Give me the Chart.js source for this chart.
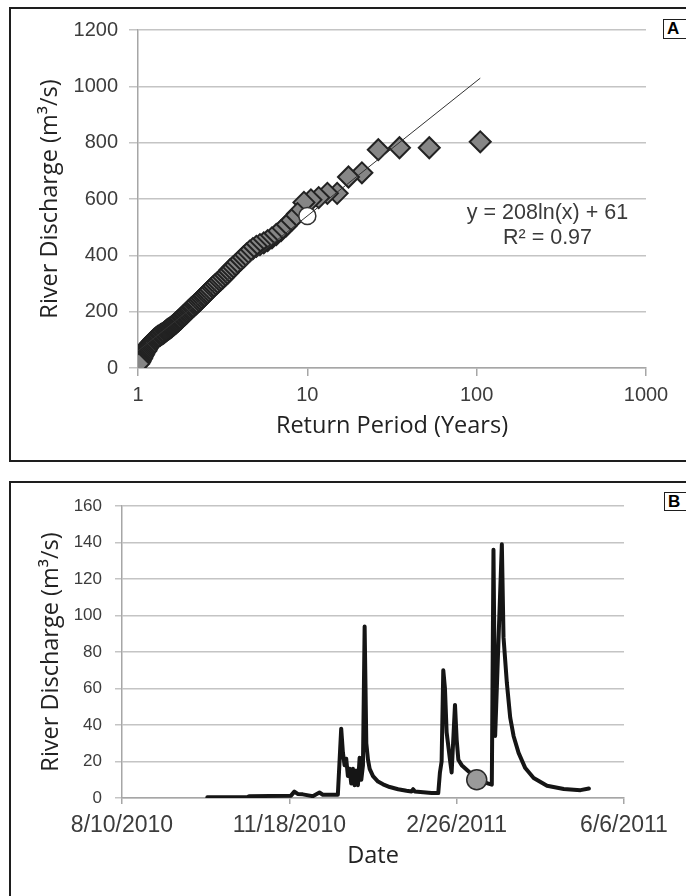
<!DOCTYPE html>
<html>
<head>
<meta charset="utf-8">
<script src="https://cdn.jsdelivr.net/npm/chart.js@4/dist/chart.umd.min.js"></script>
<style>
  html, body { margin: 0; padding: 0; background: #fff; width: 686px; height: 896px; overflow: hidden; }
  .frame { position: absolute; border: 2px solid #1e1e1e; box-sizing: border-box; }
  .tag { position: absolute; border: 1.5px solid #1e1e1e; background: #fff; box-sizing: border-box;
         font: bold 17px "Liberation Sans", Arial, sans-serif; line-height: 17px; padding-left: 3px; }
  canvas { position: absolute; left: 0; }
</style>
</head>
<body>
<div class="frame" style="left:9px; top:7px; width:700px; height:455px;"></div>
<div class="frame" style="left:9px; top:481px; width:700px; height:420px;"></div>
<div class="tag" style="left:663px; top:19px; width:30px; height:20px;">A</div>
<div class="tag" style="left:664px; top:492px; width:30px; height:19px;">B</div>
<canvas id="chartA" width="686" height="470" style="top:0"></canvas>
<canvas id="chartB" width="686" height="424" style="top:472px"></canvas>
<script>
// --- panel A: annual peaks vs return period ---
const returnPeriod = [105, 52.5, 35, 26.25, 21, 17.5, 15, 13.13, 11.67, 10.5,
  9.55, 8.75, 8.08, 7.5, 7.0, 6.56, 6.18, 5.83, 5.53, 5.25,
  5.0, 4.77, 4.57, 4.38, 4.2, 4.04, 3.89, 3.75, 3.62, 3.5,
  3.39, 3.28, 3.18, 3.09, 3.0, 2.92, 2.84, 2.76, 2.69, 2.63,
  2.56, 2.5, 2.44, 2.39, 2.33, 2.28, 2.23, 2.19, 2.14, 2.1,
  2.06, 2.02, 1.98, 1.94, 1.91, 1.88, 1.84, 1.81, 1.78, 1.75,
  1.72, 1.69, 1.67, 1.64, 1.62, 1.59, 1.57, 1.54, 1.52, 1.5,
  1.48, 1.46, 1.44, 1.42, 1.4, 1.38, 1.36, 1.35, 1.33, 1.31,
  1.3, 1.28, 1.27, 1.25, 1.24, 1.22, 1.21, 1.19, 1.18, 1.17,
  1.15, 1.14, 1.13, 1.12, 1.11, 1.09, 1.08, 1.07, 1.06, 1.05,
  1.04, 1.03, 1.02, 1.01];
const peakQ = [803, 782, 782, 775, 693, 678, 620, 620, 605, 597,
  588, 548, 525, 505, 488, 474, 462, 452, 444, 438,
  432, 424, 415, 405, 394, 384, 374, 365, 357, 349,
  337, 329, 321, 314, 307, 300, 294, 287, 280, 274,
  267, 261, 254, 249, 242, 236, 231, 226, 221, 217,
  212, 207, 202, 196, 192, 188, 183, 179, 174, 170,
  166, 162, 159, 155, 152, 148, 145, 141, 139, 137,
  134, 131, 128, 125, 122, 120, 118, 116, 114, 112,
  110, 107, 105, 102, 99, 95, 92, 88, 85, 82,
  78, 74, 70, 65, 60, 55, 50, 45, 40, 35,
  30, 25, 20, 15];
const eventT = [10];
const eventQ = [540];
// trendline end points (y = 208ln(x) + 61)
const trendT = [1, 105];
const trendQ = [61, 1029];
const xTicksA = [1, 10, 100, 1000];
const eqLines = ["y = 208ln(x) + 61", "R\u00b2 = 0.97"];
const eqT = 262;
const eqQ = [550, 462];

// --- panel B: daily discharge (x = Excel date serial) ---
const flowDay = [40451, 40475, 40476, 40501, 40503, 40505, 40508, 40514, 40518, 40520,
  40529, 40531, 40532, 40533, 40534, 40535, 40536, 40537, 40538, 40539,
  40540, 40541, 40542, 40543, 40544, 40545, 40546, 40547, 40548, 40550,
  40553, 40556, 40560, 40565, 40570, 40573, 40574, 40575, 40580, 40585,
  40589, 40590, 40591, 40592, 40593, 40594, 40596, 40597, 40599, 40600,
  40601, 40603, 40606, 40609, 40612, 40615, 40618, 40621, 40622, 40623,
  40627, 40628, 40630, 40632, 40634, 40637, 40641, 40646, 40654, 40664,
  40674, 40679];
const flowQ = [0.4, 0.4, 1.0, 1.3, 3.5, 2.2, 2.0, 1.0, 3.0, 1.8,
  1.8, 38, 25, 18, 21.5, 12, 16, 8, 16, 7,
  15, 7, 22, 10, 18, 94, 30, 21, 16, 12,
  9, 7.5, 6, 4.8, 4, 3.6, 4.8, 3.6, 3.2, 2.8,
  2.7, 14, 20, 70, 60, 36, 21, 14, 51, 32,
  21, 18, 15.5, 13, 11, 9, 8.2, 7.3, 136, 34,
  139, 88, 63, 44, 34, 24.7, 16.4, 11, 6.7, 4.9,
  4.3, 5.2];
const markDay = [40612];
const markQ = [10];
const dateTicks = [40400, 40500, 40600, 40700];
const dateLabels = ["8/10/2010", "11/18/2010", "2/26/2011", "6/6/2011"];

const tickFamily = "'Liberation Sans', Arial, sans-serif";
const titleFont = { family: "'Open Sans', sans-serif", size: 23.5 };
const gridGray = "#c4c4c4";
const axisGray = "#a6a6a6";
const labelColor = "#3c3c3c";

const toPoints = (xs, ys) => xs.map((v, i) => ({ x: v, y: ys[i] }));

// equation of the trendline, placed through the chart's own scales
const eqPlugin = {
  id: "eqText",
  afterDatasetsDraw(chart) {
    const { ctx, scales } = chart;
    ctx.save();
    ctx.font = "21.5px 'Liberation Sans', Arial, sans-serif";
    ctx.fillStyle = "#3a3a3a";
    ctx.textAlign = "center";
    ctx.textBaseline = "middle";
    eqLines.forEach((t, i) => {
      ctx.fillText(t, scales.x.getPixelForValue(eqT), scales.y.getPixelForValue(eqQ[i]));
    });
    ctx.restore();
  }
};

new Chart(document.getElementById("chartA"), {
  type: "scatter",
  data: {
    datasets: [
      {
        data: toPoints(trendT, trendQ),
        showLine: true,
        borderColor: "#333",
        borderWidth: 1,
        pointRadius: 0
      },
      {
        data: toPoints(eventT, eventQ),
        pointStyle: "circle",
        pointRadius: 8.5,
        backgroundColor: "#fff",
        borderColor: "#333",
        borderWidth: 1.5
      },
      {
        data: toPoints(returnPeriod, peakQ),
        pointStyle: "rectRot",
        pointRadius: 10.5,
        backgroundColor: "#868686",
        borderColor: "#222",
        borderWidth: 2
      }
    ]
  },
  options: {
    responsive: false,
    animation: false,
    layout: { padding: { left: 0, top: 30, right: 40, bottom: 0 } },
    plugins: { legend: { display: false }, tooltip: { enabled: false } },
    scales: {
      x: {
        type: "logarithmic",
        min: 1,
        max: 1000,
        afterBuildTicks: (s) => { s.ticks = xTicksA.map((v) => ({ value: v })); },
        afterFit: (s) => { s.height = 102; },
        ticks: { callback: (v) => String(v), font: { family: tickFamily, size: 20 }, color: labelColor, padding: 7, maxRotation: 0, autoSkip: false },
        grid: { drawOnChartArea: false, tickLength: 8, color: axisGray, lineWidth: 1.5 },
        border: { color: axisGray, width: 1.5 },
        title: { display: true, text: "Return Period (Years)", font: titleFont, color: "#222", padding: { top: 0, bottom: 30 } }
      },
      y: {
        min: 0,
        max: 1200,
        afterFit: (s) => { s.width = 138; },
        ticks: { stepSize: 200, callback: (v) => String(v), font: { family: tickFamily, size: 20 }, color: labelColor, padding: 11 },
        grid: { color: gridGray, lineWidth: 1.5, tickLength: 9 },
        border: { color: axisGray, width: 1.5 },
        title: { display: true, text: "River Discharge (m\u00b3/s)", font: titleFont, color: "#222", padding: { top: 36, bottom: 0 } }
      }
    }
  },
  plugins: [eqPlugin]
});

new Chart(document.getElementById("chartB"), {
  type: "scatter",
  data: {
    datasets: [
      {
        data: toPoints(markDay, markQ),
        pointStyle: "circle",
        pointRadius: 10,
        backgroundColor: "#9a9a9a",
        borderColor: "#2a2a2a",
        borderWidth: 1.5
      },
      {
        data: toPoints(flowDay, flowQ),
        showLine: true,
        borderColor: "#151515",
        borderWidth: 4,
        borderJoinStyle: "round",
        borderCapStyle: "round",
        pointRadius: 0,
        tension: 0
      }
    ]
  },
  options: {
    responsive: false,
    animation: false,
    layout: { padding: { left: 0, top: 34, right: 62, bottom: 0 } },
    plugins: { legend: { display: false }, tooltip: { enabled: false } },
    scales: {
      x: {
        type: "linear",
        min: 40400,
        max: 40700,
        afterBuildTicks: (s) => { s.ticks = dateTicks.map((v) => ({ value: v })); },
        afterFit: (s) => { s.height = 98; },
        ticks: { callback: (v, i) => dateLabels[i], font: { family: tickFamily, size: 23 }, color: labelColor, padding: 8, maxRotation: 0, autoSkip: false },
        grid: { drawOnChartArea: false, tickLength: 6, color: axisGray, lineWidth: 1.5 },
        border: { color: axisGray, width: 1.5 },
        title: { display: true, text: "Date", font: titleFont, color: "#222", padding: { top: 0, bottom: 26 } }
      },
      y: {
        min: 0,
        max: 160,
        afterFit: (s) => { s.width = 122; },
        ticks: { stepSize: 20, font: { family: tickFamily, size: 17 }, color: labelColor, padding: 13 },
        grid: { color: gridGray, lineWidth: 1.5, tickLength: 7 },
        border: { color: axisGray, width: 1.5 },
        title: { display: true, text: "River Discharge (m\u00b3/s)", font: titleFont, color: "#222", padding: { top: 37, bottom: 0 } }
      }
    }
  }
});
</script>
</body>
</html>
